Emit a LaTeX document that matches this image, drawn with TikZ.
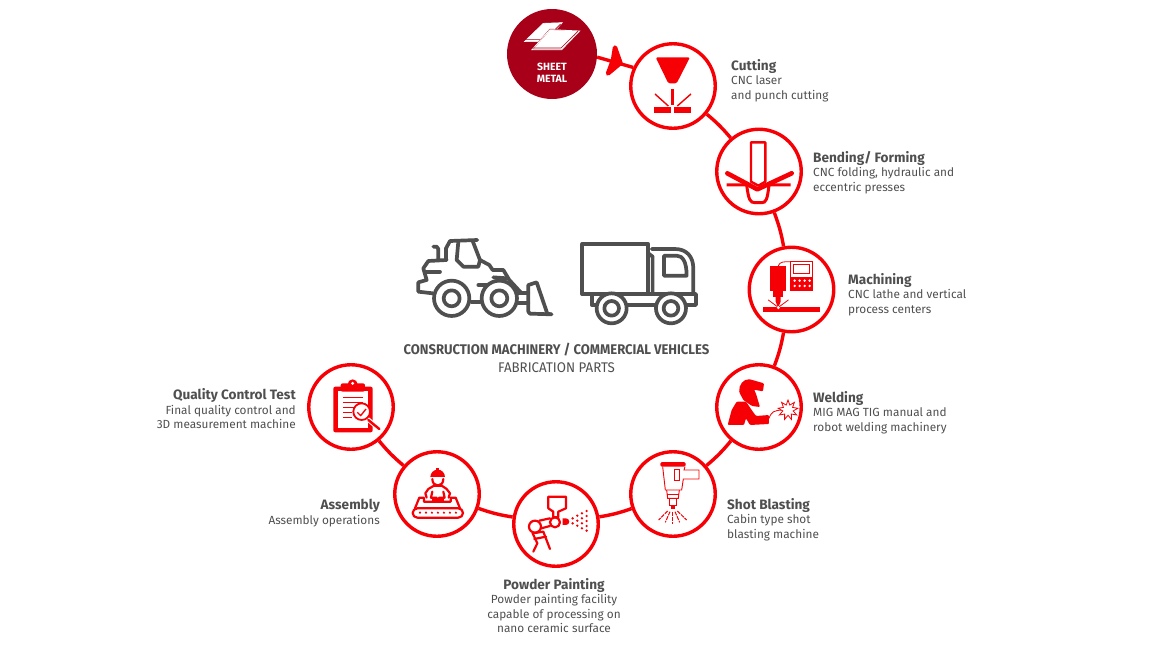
\documentclass[tikz,border=0pt]{standalone}
\usepackage{fontspec}
\setmainfont{Fira Sans}
\newfontfamily\headfont[FakeStretch=0.935]{Fira Sans}
\newfontfamily\subfont[FakeStretch=0.95]{Fira Sans}
\usetikzlibrary{
    calc,
    positioning,
    shapes.geometric}
\definecolor{rd}{HTML}{F60006}
\definecolor{darkrd}{HTML}{A80018}
\definecolor{gr}{HTML}{4F4F4F}
\tikzset{ring/.style={circle, draw=rd, line width=3.4pt, minimum size=84.5pt, inner sep=0pt, fill=white}}
\tikzset{link/.style={draw=rd, line width=3.4pt}}
\tikzset{ic/.style={draw=rd, line width=2.2pt, line join=round, line cap=round}}
\tikzset{thinic/.style={draw=rd, line width=0.8pt, line cap=round}}
\tikzset{veh/.style={draw=gr, line width=3.7pt, line join=round, line cap=round}}
\tikzset{zm/.style 2 args={shift={(#1,#2)}, x=0.3333pt, y=-0.3333pt}}
\tikzset{lblr/.style={anchor=west, align=left, text=gr, font=\fontsize{11.8}{14.5}\selectfont, inner sep=0pt}}
\tikzset{lbll/.style={anchor=east, align=right, text=gr, font=\fontsize{11.8}{14.5}\selectfont, inner sep=0pt}}
\tikzset{lblc/.style={align=center, text=gr, font=\fontsize{11.8}{14.5}\selectfont, inner sep=0pt}}
\newcommand{\hd}[1]{{\fontsize{13.6}{14.5}\selectfont\bfseries #1}}
\begin{document}
\begin{tikzpicture}[x=1pt, y=-1pt]
    \useasboundingbox (0,0) rectangle (1170,651);

    % process steps
    \node(sheet)[circle, fill=darkrd, minimum size=90pt, inner sep=0pt] at (552,54){};
    \node(cutting)[ring] at (673,86){};
    \node(bending)[ring] at (759,171.5){};
    \node(machining)[ring] at (791.5,289.5){};
    \node(welding)[ring] at (759,407){};
    \node(shot)[ring] at (673,494){};
    \node(painting)[ring] at (556,524){};
    \node(assembly)[ring] at (437,494){};
    \node(quality)[ring] at (351,407){};

    % connectors
    \draw[link] (sheet.-4) -- (cutting.155);
    \draw[link] (cutting) to[bend left=5] (bending);
    \draw[link] (bending) to[bend left=5] (machining);
    \draw[link] (machining) to[bend left=5] (welding);
    \draw[link] (welding) to[bend left=5] (shot);
    \draw[link] (shot) to[bend left=5] (painting);
    \draw[link] (painting) to[bend left=5] (assembly);
    \draw[link] (assembly) to[bend left=5] (quality);

    % arrow on the first connector
    \draw[rd, fill=rd, line width=4.4pt, line join=round] (615,47.5) -- (620.5,63) -- (608,73.5) -- (613,60) -- cycle;

    % sheet metal
    \begin{scope}[zm={490}{0}]
        \draw[white, line width=0.6pt, fill=white] (160,70) -- (217,68) -- (165,125) -- (103,125) -- cycle;
        \draw[darkrd, line width=0.6pt] (103,119) -- (165,119) -- (212,72);
        \draw[darkrd, line width=1pt, fill=white] (180,88) -- (270,92) -- (215,150) -- (125,150) -- cycle;
        \draw[white, line width=0.8pt] (180,89) -- (269,93) -- (215,149) -- (126,149) -- cycle;
        \draw[darkrd, line width=0.6pt] (127,144) -- (213,144) -- (264,93);
    \end{scope}
    \node(sheetlbl)[align=center, text=white, font=\fontsize{10.5}{12}\selectfont\bfseries, inner sep=0pt] at (552,72.5){SHEET\\METAL};

    % cutting
    \begin{scope}[zm={490}{0}]
        \fill[rd, rounded corners=1.5pt] (497,172) -- (600,172) -- (560,250) -- (535,250) -- cycle;
        \fill[rd] (543,267) rectangle (553,315);
        \fill[rd] (493,322) rectangle (543,340);
        \fill[rd] (552,322) rectangle (603,340);
        \draw[rd, line width=1.4pt] (495,282) -- (535,318);
        \draw[rd, line width=1.4pt] (603,282) -- (562,318);
    \end{scope}

    % bending
    \begin{scope}[zm={700}{120}]
        \draw[ic, line width=2.4pt] (153,67) -- (196,67) -- (196,185) -- (175,197) -- (153,185) -- cycle;
        \draw[rd, line width=3pt] (80,195) -- (140,195) .. controls (146,240) and (150,248) .. (165,248) -- (185,248) .. controls (198,248) and (202,240) .. (207,195) -- (272,195);
        \draw[rd, line width=4.6pt, line cap=round, line join=round] (82,160) -- (172,208) -- (275,160);
    \end{scope}

    % machining
    \begin{scope}[zm={700}{120}]
        \fill[rd] (210,437) rectangle (258,512);
        \fill[rd] (218,512) rectangle (250,530);
        \fill[rd] (227,530) -- (242,530) -- (242,545) -- (236,560) -- (233,560) -- (227,545) -- cycle;
        \draw[thinic] (235,437) .. controls (240,425) and (250,425) .. (272,425);
        \draw[rd, line width=1.6pt] (272,425) rectangle (338,512);
        \draw[rd, line width=1pt] (282,435) rectangle (328,462);
        \fill[rd] (272,470) rectangle (338,512);
        \foreach \px in {284,299,314,329}{
            \foreach \py in {482,498}{
                \fill[white] (\px,\py) circle[radius=4];
            }
        }
        \fill[rd] (190,560) rectangle (360,575);
        \draw[thinic] (205,540) -- (232,560);
        \draw[thinic] (265,540) -- (238,560);
        \fill[white] (235,563) circle[radius=5];
    \end{scope}

    % welding
    \begin{scope}[zm={620}{355}]
        \fill[rd, rounded corners=1pt] (358,112) .. controls (356,90) and (370,72) .. (390,73) -- (432,85) -- (429,109) -- (402,104) -- (408,116) -- (420,156) -- (396,153) -- (370,135) -- cycle;
        \fill[rd, rounded corners=1pt] (323,210) -- (335,165) -- (350,140) -- (378,140) -- (395,165) -- (408,183) -- (447,180) -- (447,207) -- (390,210) -- (378,190) -- (372,210) -- cycle;
        \draw[thinic] (447,190) .. controls (455,170) and (460,166) .. (490,165);
    \end{scope}
    \node(spark)[star, star points=9, star point ratio=1.9, minimum size=20pt, inner sep=0pt, draw=rd, line width=0.8pt, fill=white] at (788,410){};

    % shot blasting
    \begin{scope}[zm={620}{355}]
        \draw[rd, line width=1.2pt, fill=rd, rounded corners=1pt] (123,323) rectangle (195,333);
        \draw[rd, line width=0.9pt] (128,335) -- (136,405) -- (185,405) -- (190,372) -- (237,372) -- (237,345) -- (192,345) -- (195,335);
        \draw[rd, line width=0.9pt] (163,343) rectangle (177,375);
        \draw[rd, line width=0.9pt] (140,405) -- (143,430) -- (175,430) -- (178,405);
        \draw[rd, line width=0.9pt] (148,430) rectangle (170,452);
        \fill[rd] (153,452) rectangle (165,462);
        \draw[rd, line width=0.9pt] (140,418) -- (178,418);
        \draw[rd, line width=1pt, dash pattern=on 4pt off 1pt] (157,470) -- (157,507);
        \draw[rd, line width=1pt, dash pattern=on 4pt off 1pt] (150,470) -- (136,502);
        \draw[rd, line width=1pt, dash pattern=on 4pt off 1pt] (165,470) -- (179,502);
        \draw[rd, line width=1pt, dash pattern=on 4pt off 1pt] (143,468) -- (116,495);
        \draw[rd, line width=1pt, dash pattern=on 4pt off 1pt] (172,468) -- (200,495);
    \end{scope}

    % powder painting
    \begin{scope}[zm={300}{355}]
        \draw[ic] (745,425) -- (798,425) -- (798,460) -- (775,470) -- (775,487) -- (760,487) -- (760,470) -- (745,460) -- cycle;
        \draw[ic] (765,502) circle[radius=15];
        \draw[ic] (705,515) circle[radius=18];
        \draw[ic] (718,497) -- (750,490);
        \draw[ic] (724,520) -- (750,513);
        \draw[ic] (698,535) -- (730,530) -- (750,582);
        \draw[ic] (703,552) -- (738,545);
        \draw[ic] (698,535) -- (712,565) -- (700,590);
        \fill[rd] (788,490) -- (798,490) arc[start angle=-90, end angle=90, radius=10] -- (788,510) -- cycle;
        \foreach \px/\py in {818/490, 818/505,
            832/482, 832/497, 832/512,
            846/475, 846/490, 846/505, 846/520,
            860/468, 860/483, 860/498, 860/513, 860/527}{
            \fill[rd] (\px,\py) circle[radius=4];
        }
    \end{scope}

    % assembly
    \begin{scope}[zm={300}{355}]
        \draw[ic] (352,460) -- (475,460) arc[start angle=-90, end angle=90, radius=14] -- (352,488) arc[start angle=90, end angle=270, radius=14] -- cycle;
        \foreach \px in {360,378,396,414,432,450,468}{
            \fill[rd] (\px,473) circle[radius=3.5];
        }
        \draw[ic] (345,460) -- (358,428) -- (372,428) -- (372,440) -- (452,440) -- (452,428) -- (467,428) -- (480,460);
        \draw[ic] (397,372) .. controls (397,398) and (430,398) .. (430,372);
        \fill[rd] (391,366) arc[start angle=180, end angle=360, radius=22] -- cycle;
        \fill[rd] (408,338) rectangle (418,350);
        \draw[ic] (380,428) -- (376,415) -- (385,402) -- (402,392) -- (425,392) -- (440,402) -- (450,415) -- (446,428);
        \draw[ic] (397,410) -- (393,428) -- (410,428);
        \draw[ic] (430,410) -- (434,428) -- (417,428);
        \fill[rd] (396,428) rectangle (431,442);
    \end{scope}

    % quality control
    \begin{scope}[zm={300}{355}]
        \fill[rd, rounded corners=2pt] (100,95) rectangle (218,232);
        \fill[white] (115,108) rectangle (205,218);
        \fill[rd, rounded corners=2pt] (122,85) rectangle (195,110);
        \fill[rd] (158,88) circle[radius=15];
        \fill[white] (158,85) circle[radius=5];
        \draw[rd, line width=1pt] (130,128) -- (188,128);
        \draw[rd, line width=1pt] (130,143) -- (188,143);
        \draw[rd, line width=1pt] (130,158) -- (168,158);
        \draw[rd, line width=1pt] (130,173) -- (155,173);
        \draw[rd, line width=1pt] (130,188) -- (155,188);
        \draw[white, line width=4.5pt] (200,190) -- (240,224);
        \draw[rd, line width=1.8pt, fill=white] (185,170) circle[radius=25];
        \draw[rd, line width=1.4pt, line join=round] (172,172) -- (182,182) -- (198,162);
        \draw[rd, line width=2.4pt, line cap=round] (205,195) -- (238,222);
    \end{scope}

    % loader
    \begin{scope}[zm={400}{225}]
        \draw[veh] (138,105) -- (138,70) -- (150,48) -- (232,45);
        \draw[veh] (175,50) -- (170,105) -- (190,125) -- (235,125) -- (240,105) -- (218,48);
        \draw[veh] (100,65) -- (110,65) -- (115,72) -- (115,105);
        \draw[veh] (140,105) -- (85,108) -- (70,130) -- (80,165) -- (55,172) -- (55,200) -- (98,205);
        \draw[veh] (75,140) -- (120,140);
        \draw[veh] (240,105) -- (268,120) -- (278,135) -- (310,135) -- (328,165) -- (365,205);
        \draw[veh] (280,157) -- (322,160);
        \draw[veh] (235,180) -- (285,180);
        \draw[veh] (215,232) -- (240,232);
        \draw[veh] (355,205) -- (385,205);
        \draw[veh] (355,235) -- (385,235);
        \draw[veh] (385,180) -- (410,172) -- (442,266) -- (455,268) -- (390,266) -- (385,260) -- cycle;
        \draw[veh, fill=white] (155,220) circle[radius=53];
        \draw[veh] (155,220) circle[radius=24];
        \draw[veh, fill=white] (298,220) circle[radius=53];
        \draw[veh] (298,220) circle[radius=24];
    \end{scope}

    % truck
    \begin{scope}[zm={400}{225}]
        \draw[veh] (547,57) rectangle (745,207);
        \draw[veh] (758,207) -- (758,95) -- (745,85);
        \draw[veh] (755,72) -- (825,72) .. controls (860,72) and (880,95) .. (880,130) -- (880,207);
        \draw[veh] (792,92) -- (830,92) .. controls (848,92) and (860,110) .. (860,152) -- (792,152) -- cycle;
        \draw[veh] (547,207) -- (888,207) -- (888,240) -- (575,240) -- (575,207);
        \draw[veh, fill=white] (635,250) circle[radius=45];
        \draw[veh] (635,250) circle[radius=22];
        \draw[veh, fill=white] (813,250) circle[radius=45];
        \draw[veh] (813,250) circle[radius=22];
    \end{scope}

    % labels
    \node(ttlmain)[text=gr, inner sep=0pt, font=\fontsize{14}{16}\headfont\bfseries] at (556.5,350){CONSRUCTION MACHINERY / COMMERCIAL VEHICLES};
    \node(ttlsub)[text=gr, inner sep=0pt, font=\fontsize{14}{16}\subfont] at (556.5,367.5){FABRICATION PARTS};
    \node(lblcutting)[lblr] at (731,80.5){\hd{Cutting}\\CNC laser\\and punch cutting};
    \node(lblbending)[lblr] at (813,172.5){\hd{Bending/ Forming}\\CNC folding, hydraulic and\\eccentric presses};
    \node(lblmachining)[lblr] at (848,294.5){\hd{Machining}\\CNC lathe and vertical\\process centers};
    \node(lblwelding)[lblr] at (813,412.5){\hd{Welding}\\MIG MAG TIG manual and\\robot welding machinery};
    \node(lblshot)[lblr] at (727,519.5){\hd{Shot Blasting}\\Cabin type shot\\blasting machine};
    \node(lblpainting)[lblc] at (554,605.5){\hd{Powder Painting}\\Powder painting facility\\capable of processing on\\nano ceramic surface};
    \node(lblassembly)[lbll] at (380,513){\hd{Assembly}\\Assembly operations};
    \node(lblquality)[lbll] at (296,409){\hd{Quality Control Test}\\Final quality control and\\3D measurement machine};

\end{tikzpicture}
\end{document}
